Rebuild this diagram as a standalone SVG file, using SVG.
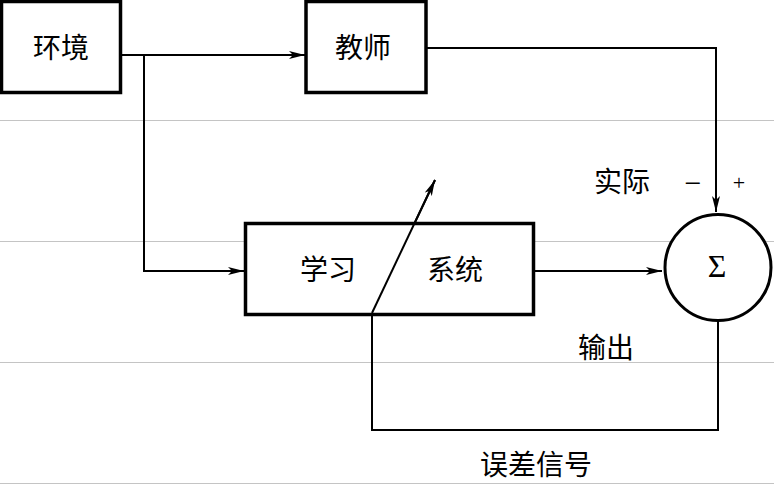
<svg xmlns="http://www.w3.org/2000/svg" width="774" height="484" viewBox="0 0 774 484">
<style>
.box{fill:#fff;stroke:#000;stroke-width:3.5}
.grid{stroke:#c4c4c4;stroke-width:1}
.ln{fill:none;stroke:#000;stroke-width:2}
.t{font-family:"Noto Sans CJK SC","Noto Sans",sans-serif;font-size:28px;fill:#000;text-anchor:middle;dominant-baseline:central}
.s{font-family:"Liberation Serif","DejaVu Serif",serif;fill:#000;text-anchor:middle;dominant-baseline:central}
</style>
<defs>
<marker id="ah" viewBox="0 0 16 8" refX="16" refY="4" markerWidth="16" markerHeight="8" markerUnits="userSpaceOnUse" orient="auto">
<path d="M0,0 L16,4 L0,8 L4,4 z" fill="#000"/>
</marker>
</defs>
<g id="grid">
<line class="grid" x1="0" y1="120.5" x2="774" y2="120.5"/>
<line class="grid" x1="0" y1="241.5" x2="774" y2="241.5"/>
<line class="grid" x1="0" y1="362.5" x2="774" y2="362.5"/>
<line class="grid" x1="0" y1="483.5" x2="774" y2="483.5"/>
</g>
<g id="connectors">
<path class="ln" d="M121,55 H305" marker-end="url(#ah)"/>
<path class="ln" d="M144,55 V271 H244" marker-end="url(#ah)"/>
<path class="ln" d="M426,48 H716 V212" marker-end="url(#ah)"/>
<path class="ln" d="M533,271 H662" marker-end="url(#ah)"/>
<path class="ln" d="M718,320 V430 H372 V313 L435,180" marker-end="url(#ah)"/>
</g>
<g id="env">
<rect class="box" x="1.5" y="1.5" width="119" height="91"/>
<text class="t" x="61" y="46">环境</text>
</g>
<g id="teacher">
<rect class="box" x="306" y="1.5" width="120" height="91"/>
<text class="t" x="363" y="46">教师</text>
</g>
<g id="learning">
<rect class="box" x="245.5" y="223.5" width="288" height="91"/>
<text class="t" x="328" y="268">学习</text>
<text class="t" x="455" y="268">系统</text>
</g>
<path class="ln" d="M372,313 L435,180"/>
<g id="sum">
<circle cx="718" cy="267.5" r="53" fill="#fff" stroke="#000" stroke-width="3"/>
<text class="s" x="717" y="266" font-size="32">Σ</text>
</g>
<g id="labels">
<text class="t" x="622" y="180">实际</text>
<text class="s" x="693" y="182" font-size="30">−</text>
<text class="s" x="739" y="182" font-size="22" fill="#666">+</text>
<text class="t" x="606" y="346">输出</text>
<text class="t" x="536" y="463" font-size="27">误差信号</text>
</g>
</svg>
